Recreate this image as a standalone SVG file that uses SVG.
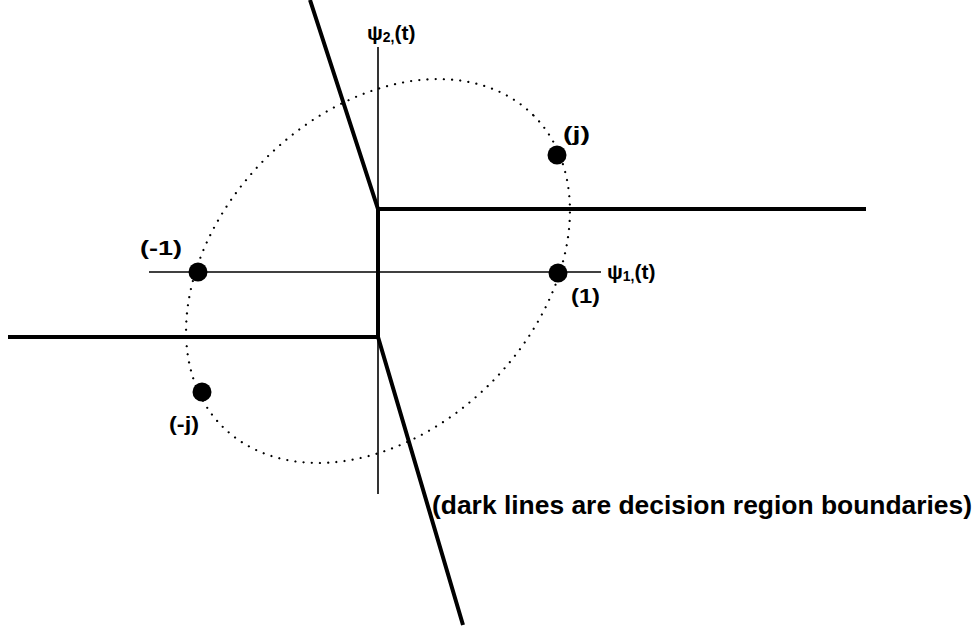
<svg xmlns="http://www.w3.org/2000/svg" width="978" height="627" viewBox="0 0 978 627">
<style>
.axis{stroke:#000;stroke-width:1.6;fill:none}
.bound{stroke:#000;stroke-width:4;fill:none;stroke-linejoin:miter}
.dots{stroke:#000;stroke-width:2.2;fill:none;stroke-dasharray:0 8.2;stroke-linecap:round}
.pt{fill:#000}
text{font-family:"Liberation Sans",Arial,sans-serif;font-weight:bold;fill:#000}
.lbl{font-size:21px}
.cap{font-size:25px}
</style>
<rect width="978" height="627" fill="#fff"/>
<g id="ellipse">
<ellipse class="dots" cx="378" cy="271" rx="220" ry="159" transform="rotate(-45 378 271)"/>
</g>
<g id="connectors">
<line class="axis" x1="149" y1="272" x2="601" y2="272"/>
<line class="axis" x1="378" y1="47" x2="378" y2="494"/>
<polyline class="bound" points="310,0 378,209 866,209"/>
<line class="bound" x1="378" y1="209" x2="378" y2="338"/>
<polyline class="bound" points="8,337 378,337 463,625"/>
</g>
<g id="axis-labels">
<text class="lbl" x="367" y="40" font-size="22">ψ<tspan font-size="14" dy="2">2,</tspan><tspan dy="-2">(t)</tspan></text>
<text class="lbl" x="607" y="279" font-size="22">ψ<tspan font-size="14" dy="2">1,</tspan><tspan dy="-2">(t)</tspan></text>
</g>
<g id="point-j">
<circle class="pt" cx="557" cy="155" r="9.5"/>
<text class="lbl" x="563" y="141" textLength="27" lengthAdjust="spacingAndGlyphs">(j)</text>
</g>
<g id="point-1">
<circle class="pt" cx="558" cy="273" r="9.5"/>
<text class="lbl" x="571" y="303" textLength="29" lengthAdjust="spacingAndGlyphs">(1)</text>
</g>
<g id="point-m1">
<circle class="pt" cx="198" cy="272" r="9.5"/>
<text class="lbl" x="140" y="255" textLength="42" lengthAdjust="spacingAndGlyphs">(-1)</text>
</g>
<g id="point-mj">
<circle class="pt" cx="202" cy="392" r="9.5"/>
<text class="lbl" x="169" y="431" textLength="30" lengthAdjust="spacingAndGlyphs">(-j)</text>
</g>
<g id="caption">
<text class="cap" x="432" y="514" textLength="540" lengthAdjust="spacingAndGlyphs">(dark lines are decision region boundaries)</text>
</g>
</svg>
